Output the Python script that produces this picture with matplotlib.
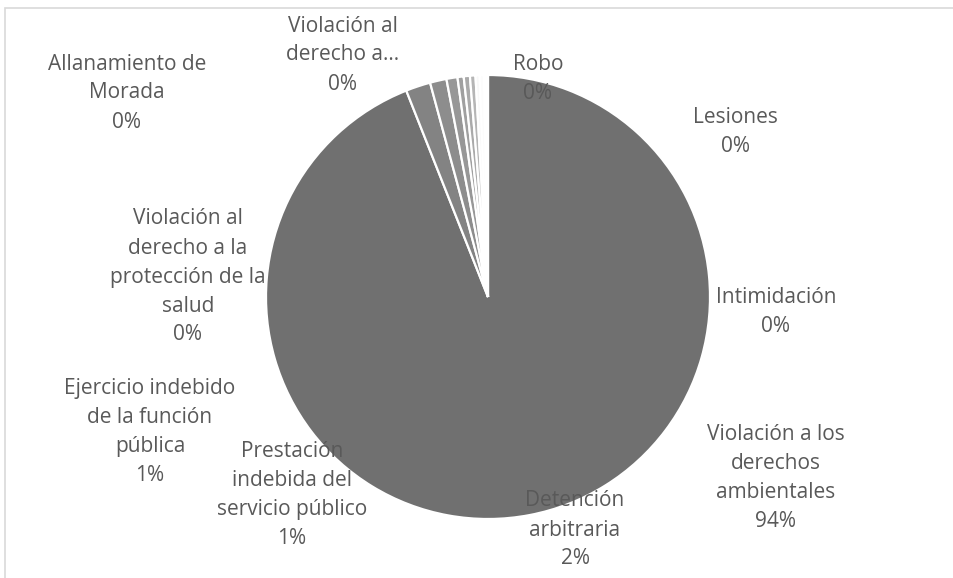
import matplotlib

matplotlib.use("Agg")
import matplotlib.pyplot as plt
from matplotlib.patches import Rectangle

# slice order: clockwise from 12 o'clock, as the source spreadsheet draws it
labels = [
    "Violación a los\nderechos\nambientales",
    "Detención\narbitraria",
    "Prestación\nindebida del\nservicio público",
    "Ejercicio indebido\nde la función\npública",
    "Violación al\nderecho a la\nprotección de la\nsalud",
    "Allanamiento de\nMorada",
    "Violación al\nderecho a...",
    "Robo",
    "Lesiones",
    "Intimidación",
]
shares = [94.0, 1.8, 1.2, 0.8, 0.45, 0.45, 0.4, 0.3, 0.3, 0.3]
colors = ["#707070", "#838383", "#8d8d8d", "#979797", "#a0a0a0",
          "#aaaaaa", "#b5b5b5", "#f8f8f8", "#fcfcfc", "#ffffff"]
# label centres in pixels (x, y from top), same order as labels
label_pos = [(776, 478), (575, 530), (292, 495), (150, 432), (188, 277),
             (127, 93), (343, 55), (538, 79), (735, 132), (776, 312)]

W, H = 954, 578
fig = plt.figure(figsize=(W / 100, H / 100), dpi=100)
fig.patch.set_facecolor("white")

# chart frame (right and bottom edges fall outside the picture)
fig.patches.append(Rectangle((5 / W, -0.1), 1.2, 1 - 8 / H + 0.1, transform=fig.transFigure,
                             fill=False, edgecolor="#d9d9d9", linewidth=1.2))

cx, cy, r = 488, 297, 222
ax = fig.add_axes([(cx - r) / W, (H - cy - r) / H, 2 * r / W, 2 * r / H])
ax.pie(shares, colors=colors, startangle=90, counterclock=False, radius=1,
       wedgeprops=dict(edgecolor="white", linewidth=1.6))
ax.set_xlim(-1, 1)
ax.set_ylim(-1, 1)
ax.set_aspect("equal")
ax.axis("off")

for name, v, (px, py) in zip(labels, shares, label_pos):
    fig.text(px / W, 1 - py / H, f"{name}\n{round(v)}%", ha="center", va="center",
             multialignment="center", fontsize=15, family=["Open Sans", "DejaVu Sans"],
             color="#595959", linespacing=1.5)

fig.savefig("out.png", dpi=100)
